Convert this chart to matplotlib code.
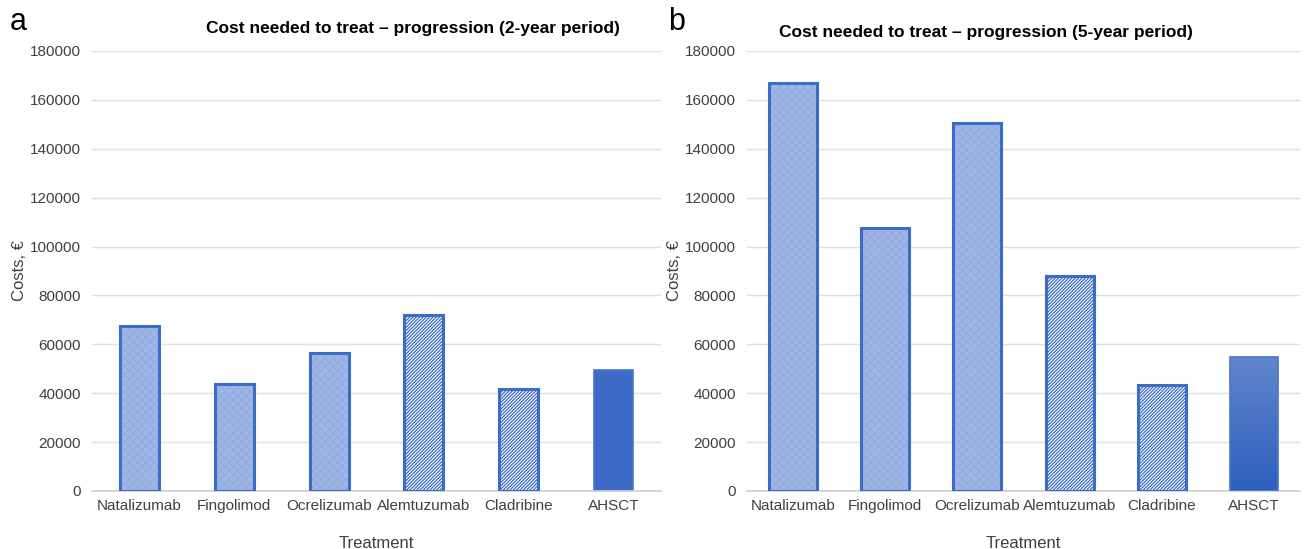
import matplotlib
matplotlib.use("Agg")
import matplotlib.pyplot as plt
import numpy as np

plt.rcParams['font.family'] = ['Liberation Sans', 'DejaVu Sans']
plt.rcParams['hatch.linewidth'] = 0.9

treatments = ["Natalizumab", "Fingolimod", "Ocrelizumab", "Alemtuzumab", "Cladribine", "AHSCT"]
costs_2y = [67300, 43800, 56600, 72000, 41900, 49700]
costs_5y = [166800, 107500, 150400, 88100, 43400, 54800]
fill_style = ["stipple", "stipple", "stipple", "stripe", "stripe", "solid"]
yticks = list(range(0, 180001, 20000))

EDGE = "#3b6cc7"
STIPPLE_FACE = "#a0b6e5"
STIPPLE_HATCH = "#93acdf"
TEXT = "#404040"

fig = plt.figure(figsize=(13.10, 5.49), dpi=100)
ax_a = fig.add_axes([92/1310, 1-491/549, (661-92)/1310, 440/549])
ax_b = fig.add_axes([747/1310, 1-491/549, (1300-747)/1310, 440/549])


def draw_panel(ax, values, width, gradient):
    x = np.arange(len(treatments))
    for xi, v, style in zip(x, values, fill_style):
        if style == "stipple":
            ax.bar(xi, v, width, color=STIPPLE_FACE, edgecolor=STIPPLE_HATCH,
                   hatch="xxxx", linewidth=0, zorder=2)
            ax.bar(xi, v, width, fill=False, edgecolor=EDGE, linewidth=2.2, zorder=3)
        elif style == "stripe":
            ax.bar(xi, v, width, color="white", edgecolor=EDGE,
                   hatch="//////////", linewidth=0, zorder=2)
            ax.bar(xi, v, width, fill=False, edgecolor=EDGE, linewidth=2.2, zorder=3)
        else:
            if gradient:
                bar = ax.bar(xi, v, width, color="none", edgecolor="#4a76c8",
                             linewidth=1.2, zorder=3)[0]
                grad = np.linspace(0, 1, 256).reshape(-1, 1)
                cmap = matplotlib.colors.LinearSegmentedColormap.from_list(
                    "g", ["#2d5fbd", "#6186cc"])
                im = ax.imshow(grad, cmap=cmap, aspect="auto", origin="lower",
                               extent=[xi - width/2, xi + width/2, 0, v], zorder=2)
                im.set_clip_path(bar)
            else:
                ax.bar(xi, v, width, color="#3b6bc6", edgecolor="#4a76c8",
                       linewidth=1.2, zorder=2)
    ax.set_xlim(-0.5, len(treatments) - 0.5)
    ax.set_ylim(0, 180000)
    ax.set_yticks(yticks)
    ax.set_yticklabels([str(t) for t in yticks])
    ax.set_xticks(x)
    ax.set_xticklabels(treatments)
    ax.tick_params(length=0, labelsize=11, colors=TEXT, pad=8)
    ax.tick_params(axis='x', pad=6)
    ax.yaxis.grid(True, color="#e0e0e0", linewidth=1, zorder=0)
    ax.set_axisbelow(True)
    for s in ["top", "right", "left"]:
        ax.spines[s].set_visible(False)
    ax.spines["bottom"].set_color("#d0d0d0")
    ax.spines["bottom"].set_linewidth(1.2)
    ax.set_xlabel("Treatment", fontsize=12, color=TEXT, labelpad=16)
    ax.set_ylabel("Costs, €", fontsize=12, color=TEXT, labelpad=2)


draw_panel(ax_a, costs_2y, 0.41, gradient=False)
draw_panel(ax_b, costs_5y, 0.52, gradient=True)

fig.text(413/1310, 1-28/549, "Cost needed to treat – progression (2-year period)",
         ha="center", va="center", fontsize=12.5, fontweight="bold", color="black")
fig.text(986/1310, 1-33/549, "Cost needed to treat – progression (5-year period)",
         ha="center", va="center", fontsize=12.5, fontweight="bold", color="black")
fig.text(10/1310, 1-22/549, "a", ha="left", va="center", fontsize=22, color="black")
fig.text(668/1310, 1-22/549, "b", ha="left", va="center", fontsize=22, color="black")

fig.savefig("out.png", dpi=100, facecolor="white")
